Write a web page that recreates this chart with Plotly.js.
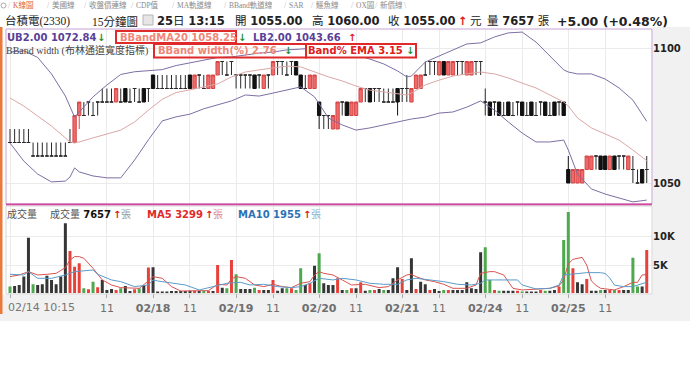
<!DOCTYPE html>
<html><head><meta charset="utf-8">
<script src="https://cdn.plot.ly/plotly-3.0.1.min.js"></script>
<style>html,body{margin:0;padding:0;background:#fff;}#chart{width:690px;height:378px;}</style>
</head><body><div id="chart"></div>
<script>
// ---- data (15-minute bars, 02/14 10:15 .. 02/25 13:15) ----
const openP = [1065,1065,1065,1065,1065,1060,1060,1060,1060,1060,1060,1060,1060,
1065,1065,1075,1075,1080,1075,1080,1080,1080,1080,1080,1080,1085,1080,1085,1080,1085,1085,
1090,1085,1085,1085,1085,1085,1085,1085,1090,1085,1090,1085,1085,1085,1090,1095,1090,1095,
1090,1090,1090,1090,1090,1090,1085,1090,1090,1095,1095,1090,1095,1095,1090,1085,1085,1085,
1080,1075,1075,1070,1070,1080,1080,1075,1075,1080,1085,1085,1085,1085,1080,1080,1080,1085,
1085,1085,1080,1085,1085,1090,1095,1095,1090,1095,1090,1090,1095,1095,1090,1090,1095,1095,
1080,1080,1080,1080,1075,1080,1075,1080,1080,1075,1080,1075,1080,1080,1075,1080,1080,1080,
1055,1050,1050,1050,1055,1055,1060,1060,1060,1055,1060,1060,1060,1055,1055,1050,1055,1055];
const highP = [1070,1070,1070,1070,1070,1065,1065,1065,1065,1065,1065,1065,1065,
1070,1075,1080,1080,1080,1080,1080,1085,1085,1085,1085,1085,1085,1085,1085,1085,1085,1085,
1090,1090,1090,1090,1090,1090,1090,1090,1090,1090,1090,1090,1090,1090,1095,1095,1095,1095,
1090,1090,1090,1090,1090,1090,1090,1090,1095,1095,1095,1095,1095,1095,1090,1090,1090,1090,
1080,1075,1075,1075,1080,1080,1080,1080,1080,1085,1085,1085,1085,1085,1085,1085,1085,1085,
1085,1090,1085,1090,1090,1095,1095,1095,1095,1095,1095,1095,1095,1095,1095,1095,1095,1095,
1085,1080,1080,1080,1080,1080,1080,1080,1080,1080,1080,1080,1080,1080,1080,1080,1080,1080,
1060,1055,1055,1055,1060,1060,1060,1060,1060,1060,1060,1060,1060,1060,1060,1055,1055,1060];
const lowP = [1065,1065,1065,1065,1065,1060,1060,1060,1060,1060,1060,1060,1060,
1065,1065,1070,1075,1075,1075,1075,1080,1080,1080,1080,1080,1080,1080,1080,1080,1080,1080,
1085,1085,1085,1085,1085,1085,1085,1085,1085,1085,1085,1085,1085,1085,1090,1090,1090,1090,
1085,1085,1085,1085,1085,1085,1085,1085,1090,1090,1090,1090,1090,1090,1085,1085,1085,1085,
1070,1070,1070,1070,1070,1075,1075,1075,1075,1080,1080,1080,1080,1080,1080,1080,1080,1075,
1080,1080,1080,1085,1085,1090,1090,1090,1090,1090,1090,1090,1090,1090,1090,1090,1090,1090,
1075,1075,1075,1075,1075,1075,1075,1075,1075,1075,1075,1075,1075,1075,1075,1075,1075,1075,
1050,1050,1050,1050,1055,1055,1055,1055,1055,1055,1055,1055,1055,1055,1050,1050,1050,1050];
const closeP = [1065,1065,1065,1065,1065,1060,1060,1060,1060,1060,1060,1060,1060,
1065,1075,1080,1075,1080,1075,1080,1080,1080,1080,1085,1080,1080,1080,1085,1080,1080,1085,
1085,1085,1085,1085,1085,1085,1085,1085,1085,1090,1090,1085,1090,1090,1095,1095,1090,1095,
1090,1090,1090,1090,1085,1090,1090,1090,1095,1095,1095,1090,1095,1090,1085,1085,1090,1090,
1075,1075,1075,1075,1080,1080,1075,1080,1080,1085,1085,1080,1085,1085,1080,1080,1080,1080,
1085,1085,1085,1090,1090,1090,1095,1095,1095,1090,1095,1095,1095,1095,1095,1095,1095,1095,
1080,1075,1080,1075,1075,1075,1075,1080,1075,1075,1075,1075,1080,1075,1075,1075,1080,1075,
1050,1055,1055,1055,1060,1060,1060,1055,1055,1060,1055,1060,1060,1060,1055,1050,1050,1055];
const prevClose = 1070;
const volume = [1180,1300,1470,2950,9840,1590,1470,1590,3120,2360,1590,2950,12400,
7480,4710,5300,880,700,2060,1060,2360,590,770,590,880,1300,410,700,880,1470,4540,
4590,300,300,300,410,410,410,410,470,470,410,410,470,410,5000,1000,880,5890,
3360,770,770,770,1000,590,590,590,2360,470,880,880,880,590,4420,1470,1770,4890,
7070,1770,1470,1470,2650,590,590,880,880,1950,470,590,590,770,590,590,2650,4590,
2530,590,6180,770,2060,1590,590,770,410,590,590,590,590,590,1950,880,770,7250,
8130,2360,590,470,470,470,470,470,300,300,300,300,590,470,470,590,1180,9420,
14370,4420,1950,1590,2530,470,470,590,590,590,590,590,590,590,6300,1180,1180,7657];
const bandIdx = [0,3,6,9,12,13,14,15,18,21,24,27,30,33,36,39,42,45,48,51,54,57,60,63,66,69,72,75,78,81,84,86,87,90,93,96,99,102,105,108,111,114,117,120,121,123,126,129,132,135,138];
const ubVal = [1098.5,1099,1096.5,1090.4,1082.2,1078.5,1074.4,1076.3,1081.9,1086.3,1090.2,1091.2,1091.5,1092,1093.5,1094.5,1095.5,1096.5,1096.7,1097.4,1098.1,1098.5,1099.3,1099.6,1100,1099.6,1098.9,1097.4,1095.9,1094.1,1091.5,1089.3,1089.6,1094.8,1097,1099.3,1101.5,1101.9,1104.1,1105.6,1105.9,1102.2,1097,1091.9,1091.1,1090.4,1090.4,1088.5,1085.2,1080.7,1072.84];
const midVal = [1081.5,1078.5,1074.8,1071.1,1066.7,1065.2,1064.8,1065.2,1066.7,1068.1,1069.6,1072.6,1077,1081,1083.5,1084.5,1085.5,1086.7,1089.3,1091.1,1091.9,1092.6,1093.3,1093,1091.1,1089.3,1087.8,1085.9,1084.4,1083.7,1083,1082.6,1083.3,1086.3,1088.1,1089.6,1090.4,1091.1,1090.4,1088.9,1087,1085.2,1082.6,1080,1078.5,1074.1,1070.4,1068.1,1065.9,1062.2,1058.25];
const lbVal = [1064.8,1058.1,1053.3,1050.4,1050.7,1052.2,1055.6,1054.1,1052.6,1051.9,1051.9,1058.5,1066,1073,1074.5,1075.5,1077.5,1078.9,1080.4,1082.6,1082.2,1083.3,1084.4,1085.6,1081.9,1074.1,1071.5,1069.6,1070.4,1071.5,1072.6,1073.3,1073.7,1074.4,1075.9,1076.3,1078.1,1080.4,1077,1072.6,1068.5,1065.2,1065.2,1065.9,1062.2,1053.3,1047.8,1045.9,1044.4,1043,1043.66];
const ma5Idx = [0,2,4,6,8,10,12,13,14,15,16,17,18,20,22,24,26,28,30,31,33,35,37,40,43,45,47,48,49,51,53,55,57,59,61,63,65,66,67,68,70,72,74,77,80,82,84,86,87,88,90,92,94,96,99,101,102,104,105,107,109,111,114,117,119,120,121,122,124,125,126,127,128,131,133,135,136,137,138];
const ma5Val = [2950,3240,3830,3240,3360,3530,4540,5890,6480,6480,6190,5300,4420,2360,1470,1000,880,880,2180,2950,2650,1180,410,410,470,1590,1470,2530,2950,2650,1470,1180,1590,1180,1000,1770,2060,3240,3830,3530,3240,2360,1470,1590,1000,1180,2360,3240,3360,2950,2360,2060,1590,880,880,1470,3530,3830,3830,3240,880,590,770,880,1300,2430,5200,6000,6350,4970,2190,1400,880,590,1180,1940,1940,3240,3299];
const ma10Idx = [0,3,4,6,9,12,14,18,19,22,24,27,30,31,32,35,38,41,44,47,50,52,55,58,61,63,65,67,70,72,75,78,81,84,86,88,91,94,97,100,102,103,105,110,111,114,117,119,120,123,125,128,129,130,131,133,135,138];
const ma10Val = [3360,3240,3830,2650,2650,3240,3830,4120,3360,2360,2060,1180,1470,2360,2180,1770,1470,590,1180,1770,1940,1470,1590,1180,1000,1180,1770,2650,2360,2650,2360,1770,1590,1590,2360,2650,2360,2060,1590,1470,1770,2360,2360,2360,1470,770,880,1470,3240,3530,3650,3650,3500,2700,1450,1180,1180,1955];
const tickIdx = [0,21,31,39,49,57,67,75,85,93,103,111,121,129];
const tickLabels = ['', '11', '02/18', '11', '02/19', '11', '02/20', '11', '02/21', '11', '02/24', '11', '02/25', '11'];
const firstTickLabel = '02/14 10:15';

// ---- styling ----
const W = 690, H = 378;
const px = x => x / W, py = y => 1 - y / H;
const LAT = 'DejaVu Sans, Noto Sans CJK TC, sans-serif';
const SER = 'Liberation Serif, Noto Sans CJK TC, serif';
const RED = '#e8413c', GREEN = '#4ea84e', BLACK = '#363636';
const N = closeP.length;
const idx = Array.from({length: N}, (_, i) => i);
const doji = idx.filter(i => openP[i] === closeP[i]);
const body = idx.filter(i => openP[i] !== closeP[i]);
const pick = (arr, sel) => sel.map(i => arr[i]);
const volColor = idx.map(i => {
  const p = i ? closeP[i - 1] : prevClose;
  return closeP[i] > p ? RED : (closeP[i] < p ? GREEN : BLACK);
});

const traces = [
  {type: 'candlestick', x: body, open: pick(openP, body), high: pick(highP, body), low: pick(lowP, body), close: pick(closeP, body),
   increasing: {line: {color: '#d64545', width: 1}, fillcolor: '#ef6a6a'},
   decreasing: {line: {color: '#111111', width: 1}, fillcolor: '#111111'}, xaxis: 'x', yaxis: 'y', hoverinfo: 'skip', showlegend: false},
  {type: 'candlestick', x: doji, open: pick(openP, doji), high: pick(highP, doji), low: pick(lowP, doji), close: pick(closeP, doji),
   increasing: {line: {color: '#2a2a2a', width: 1}, fillcolor: '#2a2a2a'},
   decreasing: {line: {color: '#2a2a2a', width: 1}, fillcolor: '#2a2a2a'}, xaxis: 'x', yaxis: 'y', hoverinfo: 'skip', showlegend: false},
  {type: 'scatter', mode: 'lines', x: bandIdx, y: ubVal, line: {color: '#7e6fa3', width: 1}, xaxis: 'x', yaxis: 'y', hoverinfo: 'skip', showlegend: false},
  {type: 'scatter', mode: 'lines', x: bandIdx, y: midVal, line: {color: '#dba7a7', width: 1}, xaxis: 'x', yaxis: 'y', hoverinfo: 'skip', showlegend: false},
  {type: 'scatter', mode: 'lines', x: bandIdx, y: lbVal, line: {color: '#7e6fa3', width: 1}, xaxis: 'x', yaxis: 'y', hoverinfo: 'skip', showlegend: false},
  {type: 'bar', x: idx, y: volume, marker: {color: volColor, line: {width: 0}}, xaxis: 'x', yaxis: 'y2', hoverinfo: 'skip', showlegend: false},
  {type: 'scatter', mode: 'lines', x: ma5Idx, y: ma5Val, line: {color: '#d9534f', width: 1}, xaxis: 'x', yaxis: 'y2', hoverinfo: 'skip', showlegend: false},
  {type: 'scatter', mode: 'lines', x: ma10Idx, y: ma10Val, line: {color: '#5b9bc9', width: 1}, xaxis: 'x', yaxis: 'y2', hoverinfo: 'skip', showlegend: false}
];

function T(x, y, text, size, color, family, extra) {
  return Object.assign({xref: 'paper', yref: 'paper', x: px(x), y: py(y), xanchor: 'left', yanchor: 'middle',
    text: text, showarrow: false, borderpad: 0, borderwidth: 0,
    font: {size: size, color: color, family: family || LAT}}, extra || {});
}
const up = '<span style="color:#e02020">↑</span>';
const dn = '<span style="color:#1f8f2f">↓</span>';

const tabs = [['K線圖', 13, '#e0602c'], ['美國線', 52, '#8a8a8a'], ['收盤價連線', 89, '#8a8a8a'], ['CDP值', 136, '#8a8a8a'],
  ['MA軌道線', 177, '#8a8a8a'], ['BBand軌道線', 229, '#8a8a8a'], ['SAR', 289, '#8a8a8a'], ['鱷魚線', 316, '#8a8a8a'],
  ['OX圖', 356, '#8a8a8a'], ['新價線', 380, '#8a8a8a']];
const annotations = [];
tabs.forEach(t => {
  annotations.push(T(t[1] - 5, 5.5, '/', 8, '#b8b8b8', SER));
  annotations.push(T(t[1], 5.5, t[0], 7.5, t[2], SER));
});
annotations.push(T(404, 5.5, '\\', 8, '#b8b8b8', SER));
annotations.push(
  T(5, 21, '台積電(2330)', 11.5, '#222', SER),
  T(92, 21, '15分鐘圖', 11.5, '#222', SER),
  T(157, 21, '<b>25</b>日 <b>13:15</b>', 11.5, '#222'),
  T(235, 21, '開 <b>1055.00</b>', 11.5, '#222'),
  T(312, 21, '高 <b>1060.00</b>', 11.5, '#222'),
  T(388, 21, '收 <b>1055.00</b>', 11.5, '#222'),
  T(458, 21, '<b>↑</b>', 11.5, '#e02020'),
  T(470, 21, '元', 11.5, '#222'),
  T(487, 21, '量 <b>7657</b> 張', 11.5, '#222'),
  T(557, 21, '<b>+5.00 (+0.48%)</b>', 12.5, '#222'),
  T(7, 37, '<b>UB2.00 1072.84</b>', 10, '#5a3f97'),
  T(97, 37, '<b>↓</b>', 10, '#1f8f2f'),
  T(120, 37, '<b>BBandMA20 1058.25</b>', 10, '#f08678'),
  T(238, 37, '<b>↓</b>', 10, '#1f8f2f'),
  T(253, 37, '<b>LB2.00 1043.66</b>', 10, '#5a3f97'),
  T(348, 37, '<b>↑</b>', 10, '#e02020'),
  T(6, 51, 'BBand width (布林通道寬度指標)', 10, '#444', SER),
  T(158, 51, '<b>BBand width(%) 2.76</b>', 10, '#f08678'),
  T(284, 51, '<b>↓</b>', 10, '#1f8f2f'),
  T(308, 51, '<b>Band% EMA 3.15</b>', 10, '#e02020'),
  T(406, 51, '<b>↓</b>', 10, '#1f8f2f'),
  T(7, 214, '成交量', 10, '#555', SER),
  T(50, 214, '成交量 <b><span style="color:#111">7657</span></b>', 10, '#555'),
  T(113, 214, '<b>↑</b>', 10, '#e02020'),
  T(121, 214, '張', 10, '#999', SER),
  T(147, 214, '<b>MA5 3299</b>', 10, '#e02a2a'),
  T(205, 214, '<b>↑</b>', 10, '#e02020'),
  T(213, 214, '張', 10, '#e08a8a', SER),
  T(238, 214, '<b>MA10 1955</b>', 10, '#2b72b5'),
  T(303, 214, '<b>↑</b>', 10, '#e02020'),
  T(311, 214, '張', 10, '#8fb0d0', SER),
  T(8, 307, firstTickLabel, 11, '#777')
);

const R = (x0, y0, x1, y1, o) => Object.assign({type: 'rect', xref: 'paper', yref: 'paper', x0: px(x0), x1: px(x1), y0: py(y1), y1: py(y0)}, o);
const shapes = [
  R(652.5, 27, 690, 321, {fillcolor: '#f1f1f1', line: {width: 0}, layer: 'below'}),
  R(0, 294.5, 690, 321, {fillcolor: '#f1f1f1', line: {width: 0}, layer: 'below'}),
  R(6, 29, 652, 204, {line: {color: '#c7a3d6', width: 1}}),
  {type: 'line', xref: 'paper', yref: 'paper', x0: px(6), x1: px(652), y0: py(204.5), y1: py(204.5), line: {color: '#d3479d', width: 2}},
  R(6, 206, 652, 294, {line: {color: '#d4d4d4', width: 1}}),
  R(0, 27, 2.5, 314, {fillcolor: '#ea7a3c', line: {width: 0}}),
  R(143, 15, 153, 25, {fillcolor: '#e6e6e6', line: {color: '#b5b5b5', width: 1}}),
  {type: 'circle', xref: 'paper', yref: 'paper', x0: px(1), x1: px(6), y0: py(8), y1: py(3), line: {color: '#aaa', width: 1}},
  R(116, 31, 236, 43, {line: {color: '#e02a2a', width: 2}}),
  R(154, 44, 306, 57.5, {line: {color: '#e02a2a', width: 2}}),
  R(306, 44, 416, 57.5, {fillcolor: '#ffffff', line: {color: '#e02a2a', width: 2}})
];

const layout = {
  width: W, height: H, margin: {l: 0, r: 0, t: 0, b: 0},
  paper_bgcolor: '#ffffff', plot_bgcolor: '#ffffff', showlegend: false,
  boxgap: 0.2, boxgroupgap: 0.1, bargap: 0.35,
  font: {family: LAT},
  xaxis: {domain: [px(6), px(652)], range: [-0.867, 139.14], anchor: 'y2', rangeslider: {visible: false},
    tickvals: tickIdx, ticktext: tickLabels.map(t => t.indexOf('/') > 0 ? '<b>' + t + '</b>' : t),
    tickfont: {size: 11, color: '#6f6f6f', family: LAT}, ticks: 'outside', ticklen: 4, tickcolor: '#a8a8a8',
    showgrid: true, gridcolor: '#ebebeb', gridwidth: 1, zeroline: false, showline: false, fixedrange: true},
  yaxis: {domain: [py(204), py(29)], range: [1042.22, 1107.04], side: 'right', anchor: 'x',
    tickvals: [1050, 1100], ticktext: ['<b>1050</b>', '<b>1100</b>'], tickfont: {size: 10, color: '#222', family: LAT},
    ticks: '', showgrid: true, gridcolor: '#ebebeb', zeroline: false, showline: false, fixedrange: true},
  yaxis2: {domain: [py(293.3), py(206)], range: [0, 15430], side: 'right', anchor: 'x',
    tickvals: [5000, 10000], ticktext: ['<b>5K</b>', '<b>10K</b>'], tickfont: {size: 10, color: '#222', family: LAT},
    ticks: '', showgrid: true, gridcolor: '#ebebeb', zeroline: false, showline: false, fixedrange: true},
  annotations: annotations, shapes: shapes
};
Plotly.newPlot('chart', traces, layout, {staticPlot: true, displayModeBar: false});
</script>
</body></html>
